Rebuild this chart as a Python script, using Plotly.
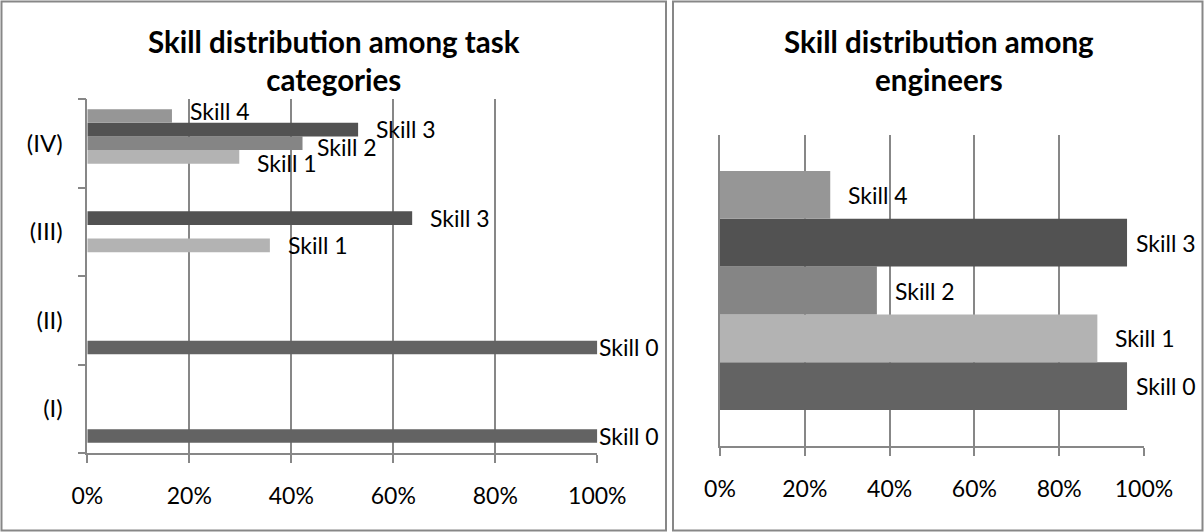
import plotly.graph_objects as go

# ---- data -------------------------------------------------------------
skills = ["Skill 0", "Skill 1", "Skill 2", "Skill 3", "Skill 4"]

task_categories = ["(I)", "(II)", "(III)", "(IV)"]
task_skill0 = [1.00, 1.00, 0.000, 0.000]
task_skill1 = [0.00, 0.00, 0.358, 0.298]
task_skill2 = [0.00, 0.00, 0.000, 0.422]
task_skill3 = [0.00, 0.00, 0.637, 0.531]
task_skill4 = [0.00, 0.00, 0.000, 0.166]

engineer_shares = [0.96, 0.89, 0.37, 0.96, 0.26]

x_ticks = [0, 0.2, 0.4, 0.6, 0.8, 1.0]

# ---- styling ----------------------------------------------------------
W, H = 1204, 532
FONT = "Lato"
GRID = "#878787"
skill_colors = ["#636363", "#b3b3b3", "#858585", "#525252", "#969696"]
BARGAP = 0.2308  # 150 % gap width

# plot areas in pixels (left, right, top, bottom)
left_area = (87.3, 597.3, 99, 453)
right_area = (720, 1144, 135, 446)
# chart frames in pixels
left_frame = (1.5, 666, 1.5, 530.5)
right_frame = (673, 1202.5, 1.5, 530.5)


def xdom(a):
    return [a[0] / W, a[1] / W]


def ydom(a):
    return [(H - a[3]) / H, (H - a[2]) / H]


task_series = [task_skill0, task_skill1, task_skill2, task_skill3, task_skill4]

fig = go.Figure()

for k, vals in enumerate(task_series):
    fig.add_trace(go.Bar(
        x=vals, y=task_categories, orientation="h", name=skills[k],
        marker=dict(color=skill_colors[k]), xaxis="x", yaxis="y",
        showlegend=False, hoverinfo="skip",
    ))

for k, v in enumerate(engineer_shares):
    fig.add_trace(go.Bar(
        x=[v], y=["engineers"], orientation="h", name=skills[k],
        marker=dict(color=skill_colors[k]), xaxis="x2", yaxis="y2",
        showlegend=False, hoverinfo="skip",
    ))

# ---- value labels -----------------------------------------------------
bar_w = (1 - BARGAP) / len(skills)
LABEL_W = 61     # approximate rendered width of "Skill n"
DEFAULT_SHIFT = 16

# small nudges so crowded labels do not collide
nudges = {
    ("(IV)", 4): (0, 4.8),
    ("(IV)", 3): (0, 1.0),
    ("(IV)", 2): (-4, -3.6),
    ("(IV)", 1): (0, -6.6),
}

annotations = []


def add_label(value, cat_index, k, area, frame, xref, yref, key):
    bar_end_px = area[0] + value * (area[1] - area[0])
    room = (frame[1] - 8 - LABEL_W) - bar_end_px
    xs = min(DEFAULT_SHIFT, room)
    dx, dy = nudges.get(key, (0, 0))
    annotations.append(dict(
        x=value, y=cat_index + (k - 2) * bar_w, xref=xref, yref=yref,
        text=skills[k], showarrow=False, xanchor="left", yanchor="middle",
        xshift=xs + dx, yshift=dy,
        font=dict(family=FONT, size=23, color="black"),
    ))


for k, vals in enumerate(task_series):
    for ci, v in enumerate(vals):
        if v > 0:
            add_label(v, ci, k, left_area, left_frame, "x", "y",
                      (task_categories[ci], k))

for k, v in enumerate(engineer_shares):
    add_label(v, 0, k, right_area, right_frame, "x2", "y2", ("eng", k))

# ---- titles -----------------------------------------------------------
title_font = dict(family=FONT, size=29.5, color="black", weight=700)
annotations.append(dict(
    x=334 / W, y=1 - 22 / H, xref="paper", yref="paper",
    text="Skill distribution among task<br>categories", showarrow=False,
    xanchor="center", yanchor="top", font=title_font,
))
annotations.append(dict(
    x=939 / W, y=1 - 22 / H, xref="paper", yref="paper",
    text="Skill distribution among<br>engineers", showarrow=False,
    xanchor="center", yanchor="top", font=title_font,
))

# ---- chart frames -----------------------------------------------------
shapes = []
for fr in (left_frame, right_frame):
    shapes.append(dict(
        type="rect", xref="paper", yref="paper",
        x0=fr[0] / W, x1=fr[1] / W, y0=1 - fr[3] / H, y1=1 - fr[2] / H,
        line=dict(color=GRID, width=2), fillcolor="rgba(0,0,0,0)", layer="below",
    ))

tick_font = dict(family=FONT, size=23, color="black")

xaxis_common = dict(
    range=[0, 1], tickvals=x_ticks, tickformat=".0%",
    showgrid=True, gridcolor=GRID, gridwidth=1.5,
    showline=True, linecolor=GRID, linewidth=1.5,
    ticks="outside", ticklen=8, tickcolor=GRID, tickwidth=1.5,
    tickfont=tick_font, zeroline=False, automargin=False,
    ticklabelstandoff=14, fixedrange=True,
)

fig.update_layout(
    width=W, height=H, autosize=False,
    margin=dict(l=0, r=0, t=0, b=0),
    paper_bgcolor="white", plot_bgcolor="white",
    template="none",
    barmode="group", bargap=BARGAP, bargroupgap=0,
    xaxis=dict(domain=xdom(left_area), anchor="y", **xaxis_common),
    yaxis=dict(
        domain=ydom(left_area), anchor="x", type="category",
        categoryorder="array", categoryarray=task_categories,
        range=[-0.5, 3.5], tickson="boundaries",
        ticks="outside", ticklen=8, tickcolor=GRID, tickwidth=1.5,
        showline=True, linecolor=GRID, linewidth=1.5, showgrid=False,
        tickfont=dict(family=FONT, size=24, color="black"),
        ticklabelstandoff=18, automargin=False,
        fixedrange=True,
    ),
    xaxis2=dict(domain=xdom(right_area), anchor="y2", **xaxis_common),
    yaxis2=dict(
        domain=ydom(right_area), anchor="x2", type="category",
        range=[-0.5, 0.5], showticklabels=False, ticks="",
        showline=True, linecolor=GRID, linewidth=1.5, showgrid=False,
        automargin=False, fixedrange=True,
    ),
    annotations=annotations,
    shapes=shapes,
)

fig.write_html("out.html")
